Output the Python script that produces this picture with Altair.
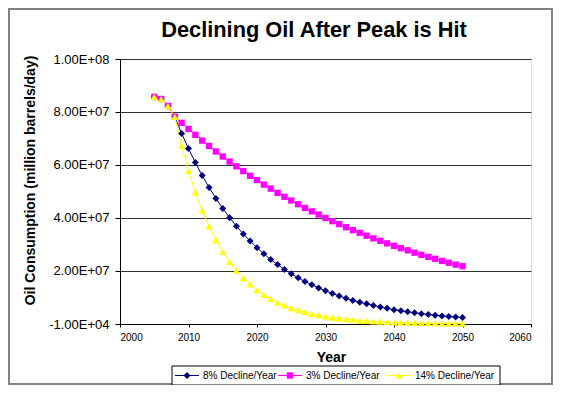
import altair as alt
import pandas as pd

# ---- data (million barrels/day) ----
years = list(range(2005, 2051))
series_names = ["8% Decline/Year", "3% Decline/Year", "14% Decline/Year"]
series_colors = ["#000080", "#FF00FF", "#FFFF00"]

pre_peak = [85.7, 84.9, 82.3]  # 2005-2007, common to all series

decline_8 = [78.2, 71.9, 66.2, 60.9, 56.0, 51.5, 47.4, 43.6, 40.1, 36.9, 34.0,
             31.3, 28.8, 26.5, 24.3, 22.4, 20.6, 19.0, 17.4, 16.0, 14.8, 13.6,
             12.5, 11.5, 10.6, 9.7, 8.9, 8.2, 7.6, 7.0, 6.4, 5.9, 5.4, 5.0, 4.6,
             4.2, 3.9, 3.6, 3.3, 3.0, 2.8, 2.6, 2.4]
decline_3 = [78.2, 75.9, 73.6, 71.4, 69.2, 67.2, 65.1, 63.2, 61.3, 59.5, 57.7,
             55.9, 54.3, 52.6, 51.1, 49.5, 48.0, 46.6, 45.2, 43.8, 42.5, 41.3,
             40.0, 38.8, 37.7, 36.5, 35.4, 34.4, 33.3, 32.3, 31.4, 30.4, 29.5,
             28.6, 27.8, 26.9, 26.1, 25.3, 24.6, 23.8, 23.1, 22.4, 21.8]
decline_14 = [78.2, 67.3, 57.8, 49.7, 42.8, 36.8, 31.6, 27.2, 23.4, 20.1, 17.3,
              14.9, 12.8, 11.0, 9.5, 8.1, 7.0, 6.0, 5.2, 4.5, 3.8, 3.3, 2.8,
              2.4, 2.1, 1.8, 1.6, 1.3, 1.2, 1.0, 0.9, 0.7, 0.6, 0.5, 0.5, 0.4,
              0.4, 0.3, 0.3, 0.2, 0.2, 0.2, 0.1]

y_ticks = [-10000, 20000000, 40000000, 60000000, 80000000, 100000000]
y_tick_labels = ["-1.00E+04", "2.00E+07", "4.00E+07", "6.00E+07", "8.00E+07", "1.00E+08"]
x_ticks = [2000, 2010, 2020, 2030, 2040, 2050, 2060]
title_text = "Declining Oil After Peak is Hit"

rows = []
for name, vals in zip(series_names, [decline_8, decline_3, decline_14]):
    full = pre_peak + vals
    for yr, v in zip(years, full):
        rows.append({"Year": yr, "value": v * 1e6, "series": name})
df = pd.DataFrame(rows)
one = pd.DataFrame({"a": [0]})

FONT = "Liberation Sans"

label_expr = " : ".join(
    f"datum.value == {v} ? '{l}'" for v, l in zip(y_ticks, y_tick_labels)
) + " : ''"

x_enc = alt.X(
    "Year:Q",
    scale=alt.Scale(domain=[2000, 2060], nice=False, zero=False),
    axis=alt.Axis(
        values=x_ticks, format="d", grid=False, tickSize=3, tickColor="black",
        domainColor="black", labelFontSize=10, labelFont=FONT, labelColor="black",
        labelPadding=5, title="Year", titleFont=FONT, titleFontSize=14,
        titleFontWeight="bold", titleColor="black", titleX=211, titleY=33,
        titleBaseline="middle", titleAlign="center",
    ),
)
y_enc = alt.Y(
    "value:Q",
    scale=alt.Scale(domain=[-10000, 100000000], nice=False, zero=False),
    axis=alt.Axis(
        values=y_ticks, labelExpr=label_expr, grid=True, gridColor="#303030",
        gridWidth=1.2, tickSize=5, tickColor="black", domainColor="black",
        labelFontSize=13, labelFont=FONT, labelColor="black", labelPadding=6,
        title="Oil Consumption (million barrels/day)", titleFont=FONT,
        titleFontSize=14, titleFontWeight="bold", titleColor="black",
        titleAngle=270, titleX=-90, titleY=121, titleAlign="center",
        titleBaseline="middle",
    ),
)

# chart-area frame and title (layout decorations, in pixels from the plot origin)
frame = alt.Chart(one).mark_rect(
    fillOpacity=0, stroke="#808080", strokeWidth=2
).encode(x=alt.value(-111), x2=alt.value(432), y=alt.value(-50), y2=alt.value(325))

title = alt.Chart(one).mark_text(
    text=title_text, font=FONT, fontSize=21.8, fontWeight="bold", color="black",
    align="center", baseline="alphabetic",
).encode(x=alt.value(194), y=alt.value(-22))

lines = alt.Chart(df).mark_line(strokeWidth=1).encode(
    x=x_enc, y=y_enc,
    color=alt.Color("series:N", scale=alt.Scale(domain=series_names, range=series_colors), legend=None),
    detail="series:N",
)

shapes = ["diamond", "square", "triangle-up"]
sizes = [49, 40, 52]
point_layers = []
for name, col, shp, sz in zip(series_names, series_colors, shapes, sizes):
    point_layers.append(
        alt.Chart(df).transform_filter(alt.datum.series == name).mark_point(
            shape=shp, filled=True, size=sz, color=col, opacity=1
        ).encode(x="Year:Q", y="value:Q")
    )

# legend box with its three entries
legend_layers = [
    alt.Chart(one).mark_rect(fill="white", stroke="black", strokeWidth=1).encode(
        x=alt.value(52), x2=alt.value(380), y=alt.value(307), y2=alt.value(326)
    )
]
entry_x = [55, 158, 267]
ly = 316.5
for name, col, shp, sz, ex in zip(series_names, series_colors, shapes, sizes, entry_x):
    legend_layers.append(
        alt.Chart(one).mark_rule(color=col, strokeWidth=1).encode(
            x=alt.value(ex), x2=alt.value(ex + 24), y=alt.value(ly)
        )
    )
    legend_layers.append(
        alt.Chart(one).mark_point(shape=shp, filled=True, size=sz, color=col, opacity=1).encode(
            x=alt.value(ex + 12), y=alt.value(ly)
        )
    )
    legend_layers.append(
        alt.Chart(one).mark_text(
            text=name, font=FONT, fontSize=10, color="black", align="left", baseline="middle"
        ).encode(x=alt.value(ex + 28), y=alt.value(ly))
    )

chart = alt.layer(frame, title, lines, *point_layers, *legend_layers).properties(
    width=411, height=265,
    padding={"left": 112, "top": 51, "right": 22, "bottom": 61},
    autosize=alt.AutoSizeParams(type="none"),
).configure_view(fill="#C0C0C0", stroke="#808080", strokeWidth=1).configure(
    background="white"
)

chart.save("out.html", embed_options={"renderer": "svg", "actions": False})
